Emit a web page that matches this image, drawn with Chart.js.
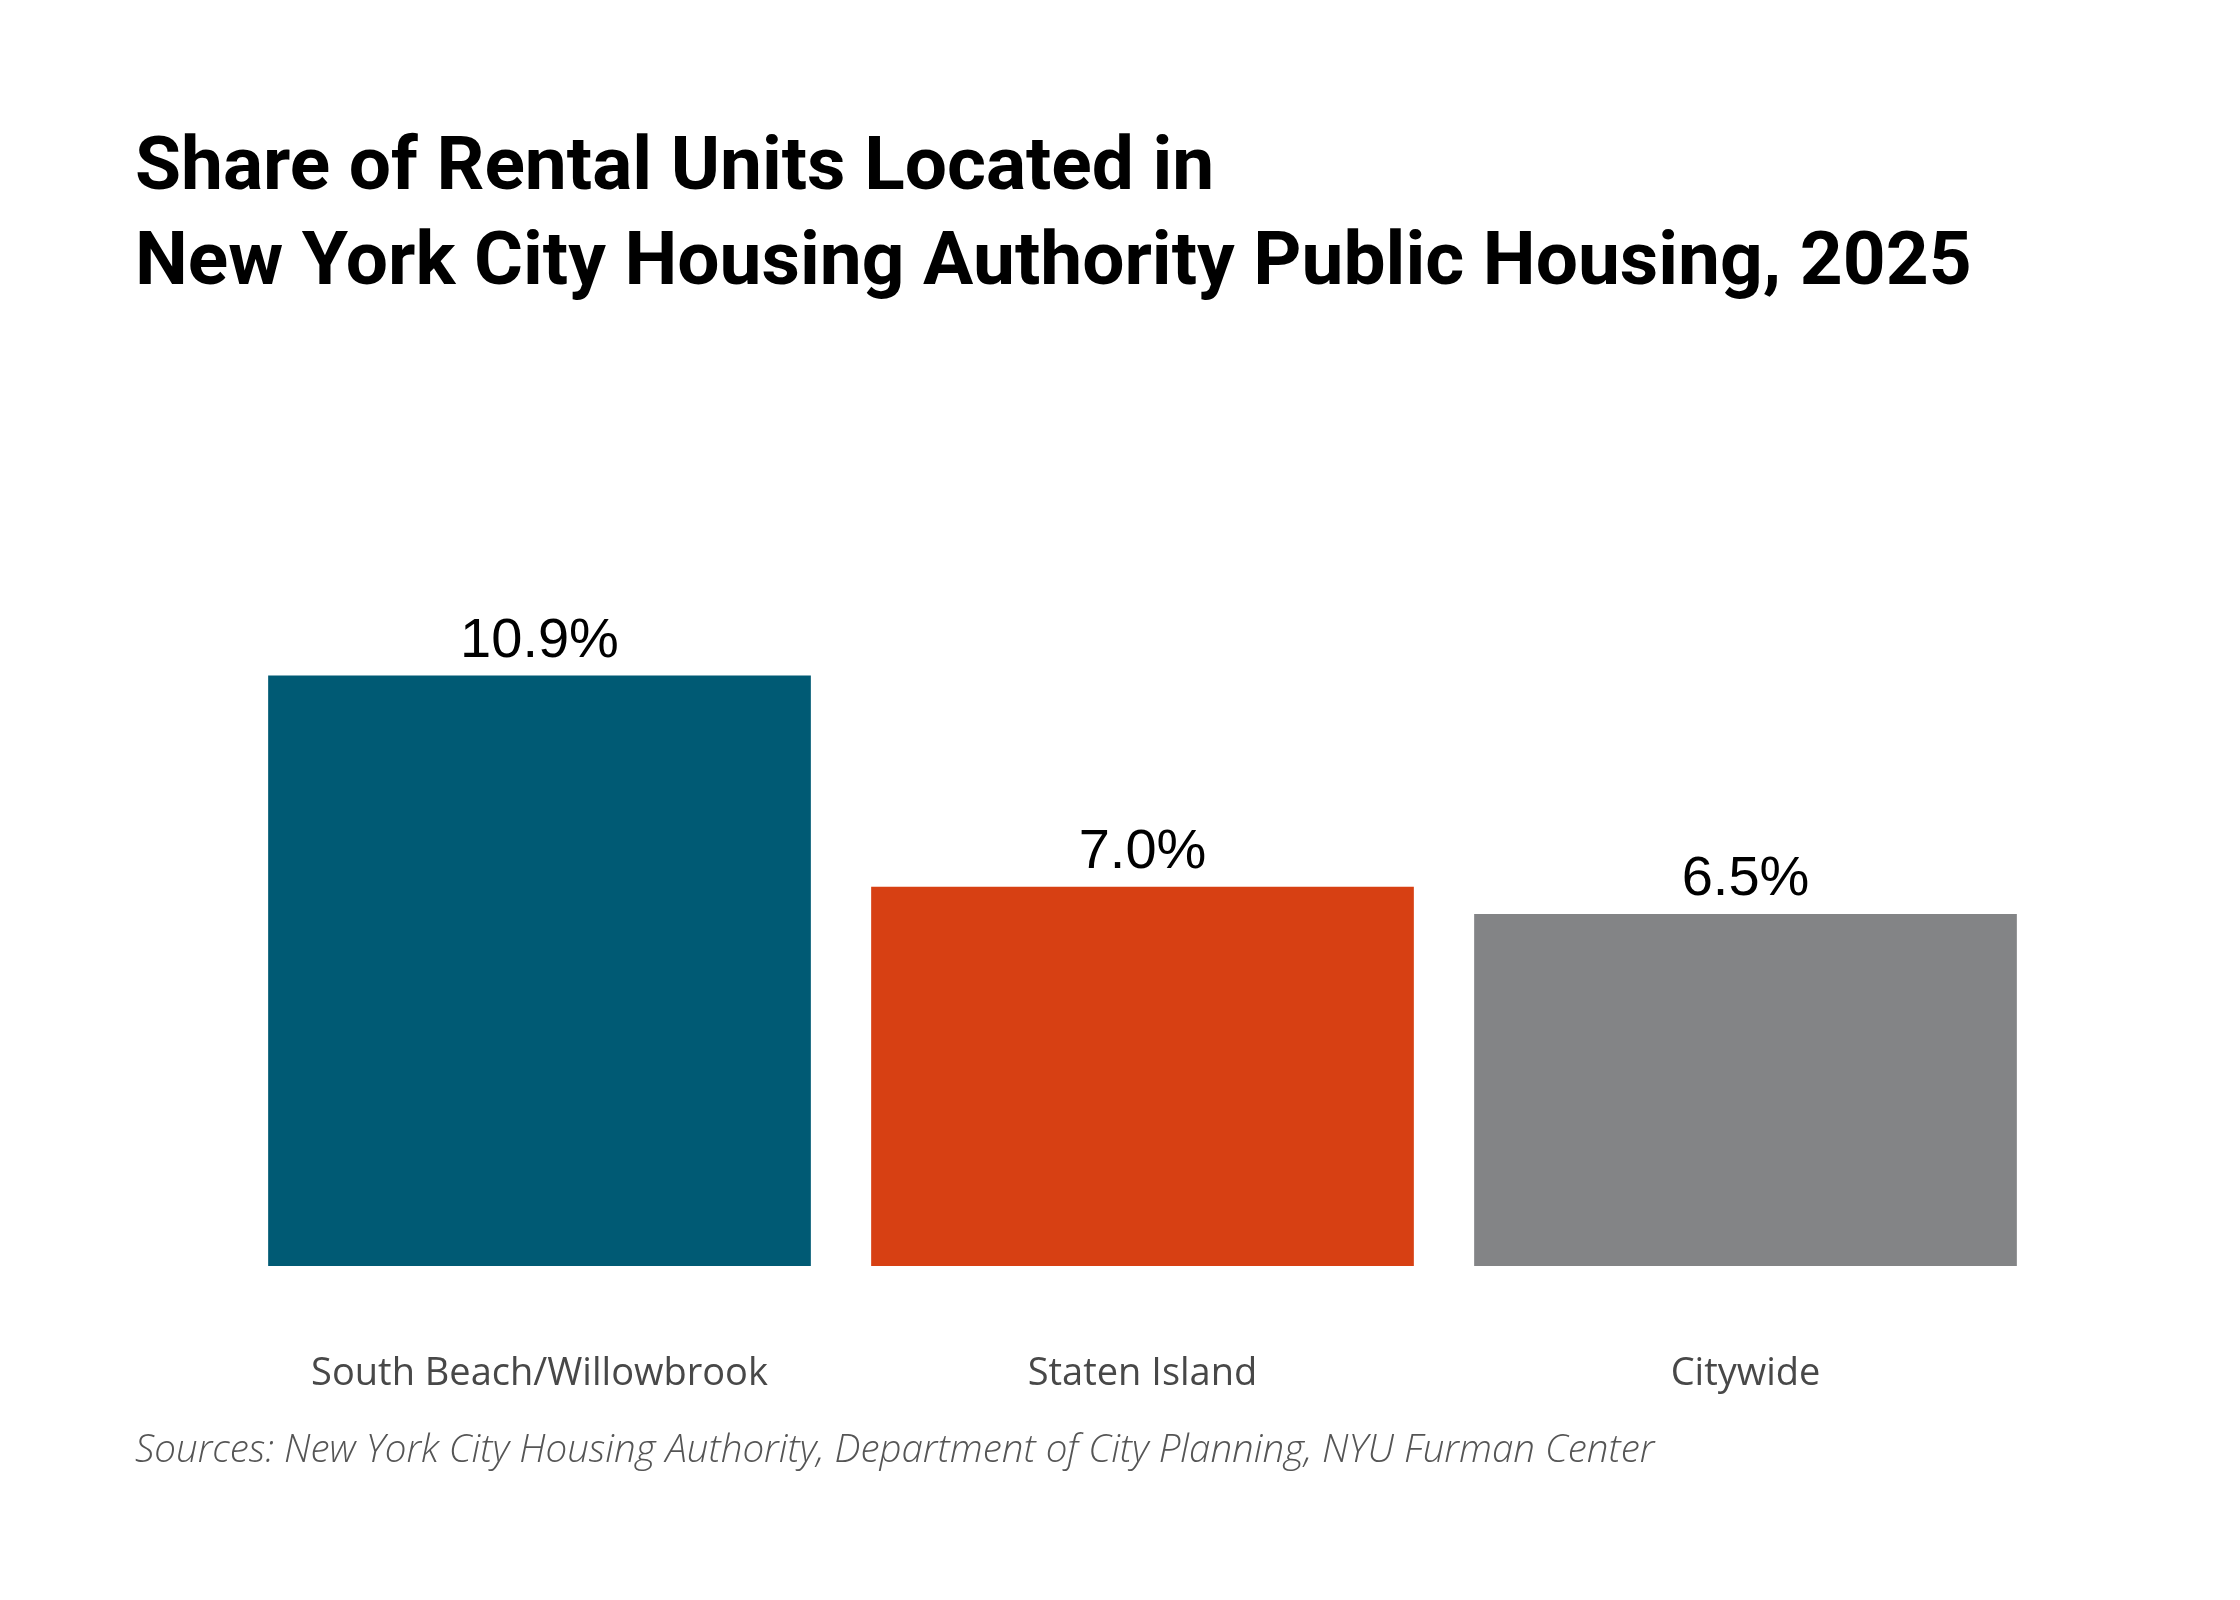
<!DOCTYPE html>
<html>
<head>
<meta charset="utf-8">
<title>Share of Rental Units Located in NYCHA Public Housing, 2025</title>
<script src="https://cdn.jsdelivr.net/npm/chart.js@4.4.1/dist/chart.umd.min.js"></script>
<style>
  html, body { margin: 0; padding: 0; background: #ffffff; }
  #wrap { width: 2240px; height: 1600px; position: relative; }
</style>
</head>
<body>
<div id="wrap"><canvas id="barChart" width="2240" height="1600"></canvas></div>
<script>
// data
const categories = ['South Beach/Willowbrook', 'Staten Island', 'Citywide'];
const shareValues = [10.9, 7.0, 6.5];
const barColors = ['#005a74', '#d74013', '#838486'];

const titleLines = [
    'Share of Rental Units Located in',
    'New York City Housing Authority Public Housing, 2025'
];
const sourceText = 'Sources: New York City Housing Authority, Department of City Planning, NYU Furman Center';

// fit a font size so the text spans the given width
function fitFont(ctx, text, weight, style, family, width) {
    ctx.font = `${style} ${weight} 100px ${family}`;
    const w = ctx.measureText(text).width;
    return 100 * width / w;
}

const textPlugin = {
    id: 'textPlugin',
    afterDraw(chart) {
        const ctx = chart.ctx;
        ctx.save();

        // title
        const titleFamily = 'Roboto, "Noto Sans", sans-serif';
        const titleSize = fitFont(ctx, titleLines[1], 700, 'normal', titleFamily, 1837);
        ctx.font = `normal 700 ${titleSize}px ${titleFamily}`;
        ctx.fillStyle = '#000000';
        ctx.textAlign = 'left';
        ctx.textBaseline = 'alphabetic';
        ctx.fillText(titleLines[0], 135, 189);
        ctx.fillText(titleLines[1], 135, 284);

        // sources
        const srcFamily = '"Open Sans", "Noto Sans", sans-serif';
        const srcSize = fitFont(ctx, sourceText, 300, 'italic', srcFamily, 1520);
        ctx.font = `italic 300 ${srcSize}px ${srcFamily}`;
        ctx.fillStyle = '#555555';
        ctx.fillText(sourceText, 135, 1462);

        // value labels above bars
        ctx.font = '56px "Liberation Sans", Arial, sans-serif';
        ctx.fillStyle = '#000000';
        ctx.textAlign = 'center';
        const meta = chart.getDatasetMeta(0);
        meta.data.forEach((bar, i) => {
            ctx.fillText(shareValues[i].toFixed(1) + '%', bar.x, bar.y - 19);
        });

        ctx.restore();
    }
};

const chart = new Chart(document.getElementById('barChart').getContext('2d'), {
    type: 'bar',
    data: {
        labels: categories,
        datasets: [{
            data: shareValues,
            backgroundColor: barColors,
            borderWidth: 0,
            barPercentage: 1.0,
            categoryPercentage: 0.9
        }]
    },
    options: {
        responsive: false,
        devicePixelRatio: 1,
        animation: false,
        layout: {
            padding: { left: 238, right: 193, top: 616, bottom: 0 }
        },
        plugins: {
            legend: { display: false },
            title: { display: false },
            tooltip: { enabled: false }
        },
        scales: {
            x: {
                grid: { display: false, drawTicks: false },
                border: { display: false },
                ticks: {
                    padding: 85,
                    color: '#484848',
                    font: { family: '"Open Sans", "Noto Sans", sans-serif', size: 38 },
                    maxRotation: 0
                },
                afterFit: scale => { scale.height = 334; }
            },
            y: {
                display: false,
                min: 0,
                max: 12
            }
        }
    },
    plugins: [textPlugin]
});
</script>
</body>
</html>
